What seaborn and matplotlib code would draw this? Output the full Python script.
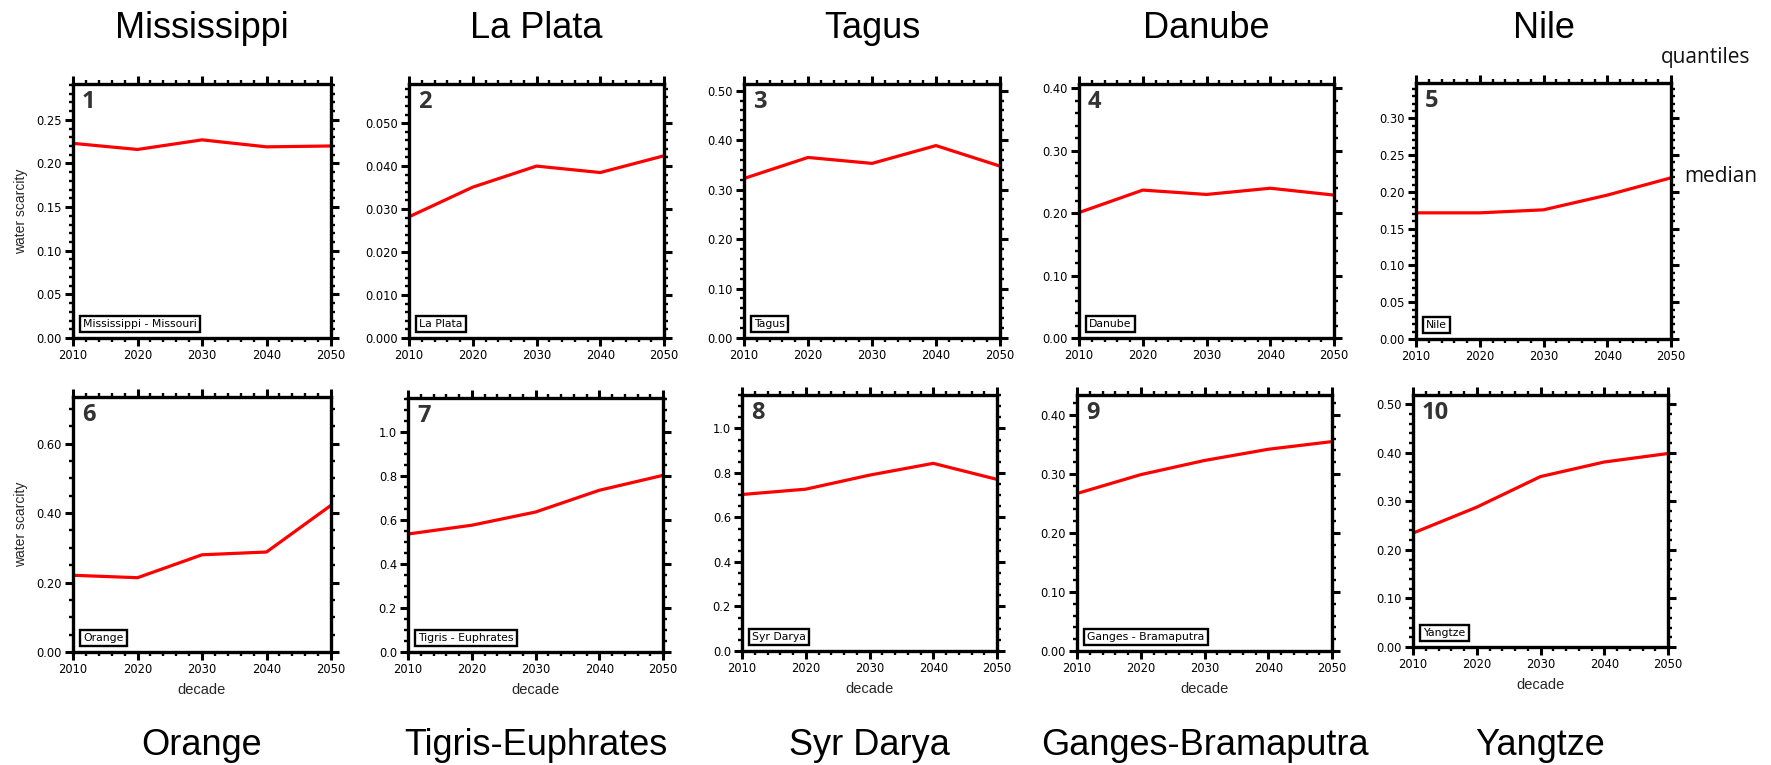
import matplotlib
matplotlib.use("Agg")
import matplotlib.pyplot as plt
from matplotlib.ticker import MultipleLocator, FormatStrFormatter, AutoMinorLocator
import seaborn as sns
import pandas as pd

sns.set_style("ticks")
plt.rcParams['font.family'] = ['DejaVu Sans']

# ---------------- data ----------------
decades = [2010, 2020, 2030, 2040, 2050]

mississippi = [0.223, 0.216, 0.227, 0.219, 0.220]
la_plata = [0.0282, 0.0351, 0.0400, 0.0385, 0.0424]
tagus = [0.3225, 0.365, 0.353, 0.389, 0.3475]
danube = [0.201, 0.237, 0.230, 0.240, 0.229]
nile = [0.1715, 0.1715, 0.1756, 0.1956, 0.2191]
orange = [0.221, 0.214, 0.280, 0.288, 0.4225]
tigris_euphrates = [0.537, 0.577, 0.637, 0.736, 0.804]
syr_darya = [0.703, 0.727, 0.790, 0.843, 0.771]
ganges_bramaputra = [0.267, 0.299, 0.323, 0.342, 0.355]
yangtze = [0.2346, 0.288, 0.351, 0.381, 0.3985]

series = [mississippi, la_plata, tagus, danube, nile,
          orange, tigris_euphrates, syr_darya, ganges_bramaputra, yangtze]

box_labels = ["Mississippi - Missouri", "La Plata", "Tagus", "Danube", "Nile",
              "Orange", "Tigris - Euphrates", "Syr Darya", "Ganges - Bramaputra", "Yangtze"]
top_titles = ["Mississippi", "La Plata", "Tagus", "Danube", "Nile"]
bottom_titles = ["Orange", "Tigris-Euphrates", "Syr Darya", "Ganges-Bramaputra", "Yangtze"]

y_max = [0.291, 0.0591, 0.5135, 0.407, 0.348, 0.7345, 1.156, 1.15, 0.434, 0.519]
y_major = [0.05, 0.01, 0.1, 0.1, 0.05, 0.2, 0.2, 0.2, 0.1, 0.1]
y_minor_div = [5, 5, 5, 5, 5, 4, 4, 4, 5, 5]
y_fmt = ['%.2f', '%.3f', '%.2f', '%.2f', '%.2f', '%.2f', '%.1f', '%.1f', '%.2f', '%.2f']

# ---------------- layout (pixel boxes: left, top, right, bottom) ----------------
W, H = 1771, 765
boxes = [(73, 84, 331, 338), (409, 84, 664, 338), (744, 84, 1000, 338),
         (1079, 84, 1334, 338), (1416, 83, 1671, 339),
         (73, 397, 331, 652), (408, 398, 663, 652), (742, 395, 997, 651),
         (1077, 395, 1332, 651), (1413, 395, 1668, 647)]

fig = plt.figure(figsize=(W / 100, H / 100), dpi=100)

for i, (l, t, r, b) in enumerate(boxes):
    ax = fig.add_axes([l / W, 1 - b / H, (r - l) / W, (b - t) / H])
    df = pd.DataFrame({"decade": decades, "value": series[i]})
    sns.lineplot(data=df, x="decade", y="value", ax=ax, color="#ff0000",
                 linewidth=2.3, legend=False)
    ax.set_xlim(2010, 2050)
    ax.set_ylim(0, y_max[i])
    ax.xaxis.set_major_locator(MultipleLocator(10))
    ax.xaxis.set_minor_locator(MultipleLocator(2))
    ax.yaxis.set_major_locator(MultipleLocator(y_major[i]))
    ax.yaxis.set_minor_locator(AutoMinorLocator(y_minor_div[i]))
    ax.yaxis.set_major_formatter(FormatStrFormatter(y_fmt[i]))
    for sp in ax.spines.values():
        sp.set_visible(True)
        sp.set_linewidth(2.4)
        sp.set_color("black")
    ax.tick_params(which="both", direction="out", top=True, right=True,
                   labeltop=False, labelright=False, colors="black")
    ax.tick_params(which="major", length=5.5, width=2.2, labelsize=8.3, pad=2.5)
    ax.tick_params(which="minor", length=3.0, width=1.7)
    ax.set_xlabel("")
    ax.set_ylabel("")
    if i % 5 == 0:
        ax.set_ylabel("water scarcity", fontsize=10, family="Liberation Sans", labelpad=6)
    if i >= 5:
        ax.set_xlabel("decade", fontsize=10.5, family="Liberation Sans", labelpad=5)
    ax.text(0.035, 0.975, str(i + 1), transform=ax.transAxes, ha="left", va="top",
            fontsize=17, fontweight="bold", color="#333333", family="Open Sans")
    ax.text(0.04, 0.035, box_labels[i], transform=ax.transAxes, ha="left", va="bottom",
            fontsize=7.8, color="black",
            bbox=dict(boxstyle="square,pad=0.3", fc="white", ec="black", lw=1.7))

# column titles
for c in range(5):
    l, t, r, b = boxes[c]
    fig.text(((l + r) / 2) / W, 1 - 38 / H, top_titles[c], ha="center", va="baseline",
             fontsize=26, family="Liberation Sans", color="black")
    l, t, r, b = boxes[c + 5]
    fig.text(((l + r) / 2) / W, 1 - 755 / H, bottom_titles[c], ha="center", va="baseline",
             fontsize=26, family="Liberation Sans", color="black")

fig.text(1706 / W, 1 - 57 / H, "quantiles", ha="center", va="center",
         fontsize=15, family="Open Sans", color="#111111")
fig.text(1721 / W, 1 - 177 / H, "median", ha="center", va="center",
         fontsize=15, family="Open Sans", color="#111111")

fig.savefig("out.png", dpi=100, facecolor="white")
